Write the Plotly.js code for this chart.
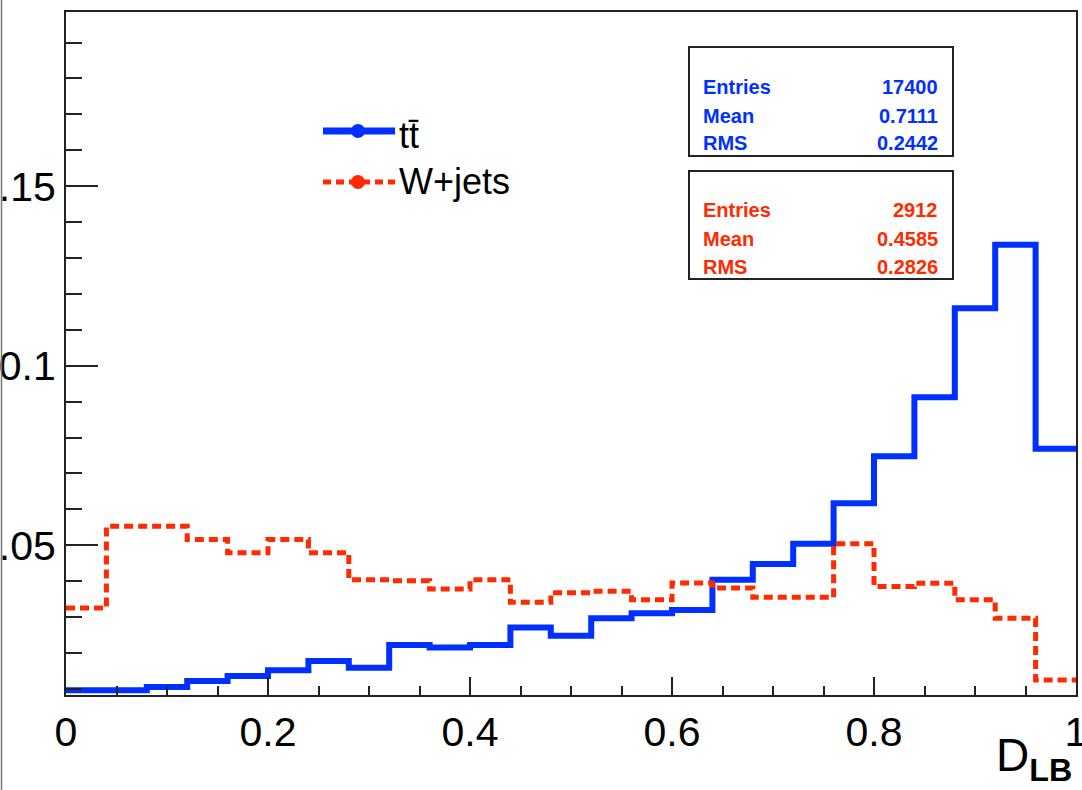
<!DOCTYPE html>
<html><head><meta charset="utf-8">
<script src="https://cdn.plot.ly/plotly-3.0.1.min.js"></script>
<style>html,body{margin:0;padding:0;background:#fff}#chart{width:1082px;height:790px}</style>
</head><body><div id="chart"></div>
<script>
// ---- data ----
const binEdges = [0,0.04,0.08,0.12,0.16,0.20,0.24,0.28,0.32,0.36,0.40,0.44,0.48,0.52,0.56,0.60,0.64,0.68,0.72,0.76,0.80,0.84,0.88,0.92,0.96,1.0];
const ttValues = [0.0096,0.0096,0.0105,0.0122,0.0136,0.0152,0.0178,0.0159,0.0222,0.0215,0.0222,0.0271,0.0248,0.0297,0.0311,0.0320,0.0404,0.0448,0.0504,0.0617,0.0748,0.0912,0.1160,0.1337,0.0769];
const wjValues = [0.0325,0.0553,0.0553,0.0516,0.0479,0.0516,0.0479,0.0404,0.0401,0.0378,0.0404,0.0341,0.0368,0.0372,0.0348,0.0395,0.0381,0.0355,0.0355,0.0504,0.0385,0.0394,0.0348,0.0297,0.0125];
const seriesNames = ['tt\u0304', 'W+jets'];
const statLabels = ['Entries', 'Mean', 'RMS'];
const ttStats = ['17400', '0.7111', '0.2442'];
const wjStats = ['2912', '0.4585', '0.2826'];
const xTickVals = [0, 0.2, 0.4, 0.6, 0.8, 1];
const xTickText = ['0', '0.2', '0.4', '0.6', '0.8', '1'];
const yTickVals = [0.05, 0.1, 0.15];
const yTickText = ['0.05', '0.1', '0.15'];
const xTitle = 'D<sub><b>LB</b></sub>';

// ---- styles ----
const BLUE = '#0030ff', RED = '#ff2a00';
const FONT = 'Liberation Sans, Arial, Helvetica, sans-serif';
const W = 1082, H = 790;
const M = {l: 66, r: 6, t: 12, b: 95};
const PW = W - M.l - M.r, PH = H - M.t - M.b;
const px = x => (x - M.l) / PW;      // pixel -> paper
const py = y => (H - M.b - y) / PH;

function stepY(v) { return v.concat([v[v.length - 1]]); }

const traces = [
  {x: binEdges, y: stepY(ttValues), type: 'scatter', mode: 'lines', name: seriesNames[0],
   line: {shape: 'hv', color: BLUE, width: 6}, showlegend: false, hoverinfo: 'skip'},
  {x: binEdges, y: stepY(wjValues), type: 'scatter', mode: 'lines', name: seriesNames[1],
   line: {shape: 'hv', color: RED, width: 5, dash: '9px,5px'}, showlegend: false, hoverinfo: 'skip'}
];

const shapes = [];
const annotations = [];

// left image border line
shapes.push({type: 'line', xref: 'paper', yref: 'paper', x0: px(1.5), x1: px(1.5), y0: py(0), y1: py(H),
  line: {color: '#777', width: 1.5}});

// legend
const legRows = [
  {name: seriesNames[0], color: BLUE, width: 7, dash: 'solid', y: 131, ty: 135},
  {name: seriesNames[1], color: RED, width: 5, dash: '8px,5px', y: 182, ty: 181}
];
legRows.forEach(r => {
  shapes.push({type: 'line', xref: 'paper', yref: 'paper', x0: px(323), x1: px(395), y0: py(r.y), y1: py(r.y),
    line: {color: r.color, width: r.width, dash: r.dash}});
  shapes.push({type: 'circle', xref: 'paper', yref: 'paper', xsizemode: 'pixel', ysizemode: 'pixel',
    xanchor: px(358), yanchor: py(r.y), x0: -7, x1: 7, y0: -7, y1: 7,
    fillcolor: r.color, line: {color: r.color, width: 0}});
  annotations.push({xref: 'paper', yref: 'paper', x: px(397), y: py(r.ty), xanchor: 'left', yanchor: 'middle',
    text: r.name, showarrow: false, font: {family: FONT, size: 36, color: '#000'}});
});

// stat boxes
const boxes = [
  {color: BLUE, vals: ttStats, top: 47, bot: 156, rows: [87, 116, 143]},
  {color: RED, vals: wjStats, top: 171, bot: 279, rows: [210, 239, 267]}
];
boxes.forEach(b => {
  shapes.push({type: 'rect', xref: 'paper', yref: 'paper', x0: px(689), x1: px(953), y0: py(b.top), y1: py(b.bot),
    line: {color: '#222', width: 2}, fillcolor: 'rgba(255,255,255,1)'});
  statLabels.forEach((lab, i) => {
    annotations.push({xref: 'paper', yref: 'paper', x: px(701), y: py(b.rows[i]), xanchor: 'left', yanchor: 'middle',
      text: '<b>' + lab + '</b>', showarrow: false, font: {family: FONT, size: 20, color: b.color}});
    annotations.push({xref: 'paper', yref: 'paper', x: px(940), y: py(b.rows[i]), xanchor: 'right', yanchor: 'middle',
      text: '<b>' + b.vals[i] + '</b>', showarrow: false, font: {family: FONT, size: 20, color: b.color}});
  });
});

// x axis title
annotations.push({xref: 'paper', yref: 'paper', x: px(1074), y: py(727), xanchor: 'right', yanchor: 'top',
  text: xTitle, showarrow: false, font: {family: FONT, size: 46, color: '#000'}});

const layout = {
  width: W, height: H, margin: M,
  paper_bgcolor: '#fff', plot_bgcolor: '#fff',
  font: {family: FONT, color: '#000'},
  showlegend: false,
  xaxis: {range: [0, 1], tickvals: xTickVals, ticktext: xTickText, ticks: 'inside', ticklen: 18, tickwidth: 2,
    tickcolor: '#222', showline: true, linecolor: '#222', linewidth: 2, mirror: true, showgrid: false, zeroline: false,
    tickfont: {family: FONT, size: 41, color: '#000'}, ticklabeloverflow: 'allow',
    minor: {dtick: 0.05, tick0: 0, ticks: 'inside', ticklen: 9, tickwidth: 2, tickcolor: '#222', showgrid: false}},
  yaxis: {range: [0.0083, 0.1985], tickvals: yTickVals, ticktext: yTickText, ticks: 'inside', ticklen: 32, tickwidth: 2,
    tickcolor: '#222', showline: true, linecolor: '#222', linewidth: 2, mirror: true, showgrid: false, zeroline: false,
    tickfont: {family: FONT, size: 41, color: '#000'}, ticklabeloverflow: 'allow',
    minor: {dtick: 0.01, tick0: 0, ticks: 'inside', ticklen: 16, tickwidth: 2, tickcolor: '#222', showgrid: false}},
  shapes: shapes,
  annotations: annotations
};

Plotly.newPlot('chart', traces, layout, {displayModeBar: false, staticPlot: true});
</script>
</body></html>
